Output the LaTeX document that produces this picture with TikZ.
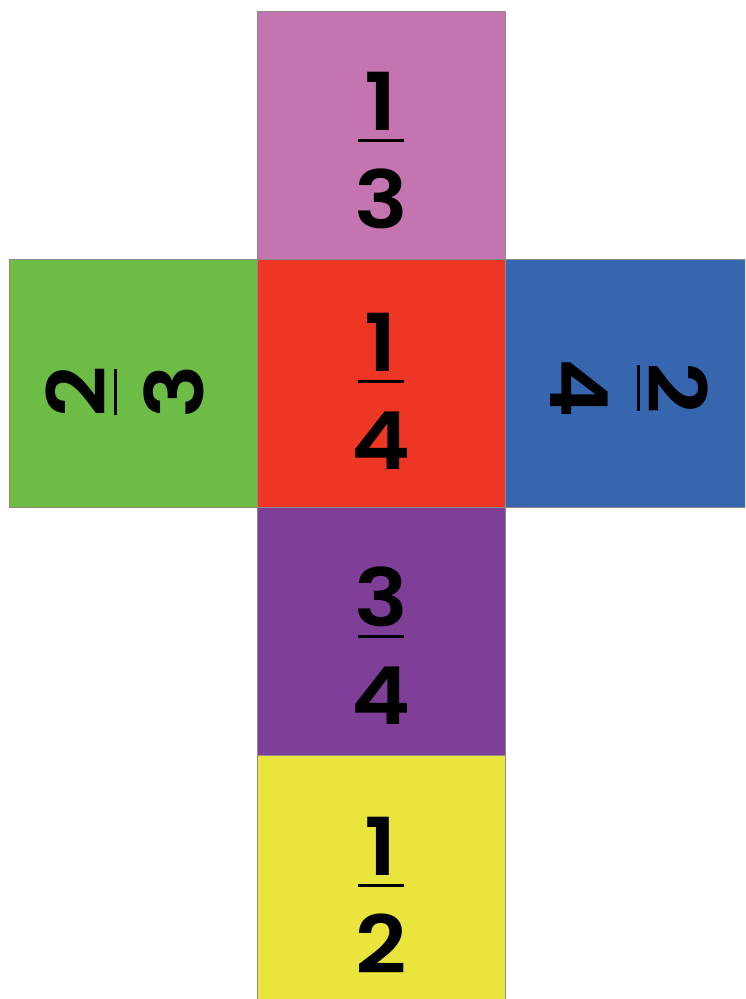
\documentclass[tikz,border=0pt]{standalone}
\usepackage{fontspec}
\newfontfamily\digitfont{Poppins SemiBold}
\definecolor{cpink}{HTML}{C474AE}
\definecolor{cred}{HTML}{EE3624}
\definecolor{cgreen}{HTML}{6CBC45}
\definecolor{cblue}{HTML}{3766B0}
\definecolor{cpurple}{HTML}{7F3F98}
\definecolor{cyellow}{HTML}{E9E53C}
\newcommand\myfrac[5]{%
  \begin{scope}[shift={#1},rotate=#2]
    \draw[fracbar] (-23,0) -- (23,0);
    \node[digit] (#5n) at (0,10) {#3};
    \node[digit] (#5d) at (0,-88) {#4};
  \end{scope}}
\begin{document}
\begin{tikzpicture}[x=1pt,y=1pt,
  face/.style={rectangle,draw=black!45,line width=0.8pt,minimum width=248pt,minimum height=248pt,inner sep=0pt,outer sep=0pt},
  digit/.style={anchor=base,inner sep=0pt,text depth=0pt,transform shape,xscale=1.12,font=\digitfont\fontsize{80}{80}\selectfont},
  fracbar/.style={line width=3pt,black}]
\useasboundingbox (0,0) rectangle (745,-999);
\fill[white] (0,0) rectangle (745,-999);
\clip (0,0) rectangle (745,-999);
\node[face,fill=cpink] (top) at (381,-135) {};
\node[face,fill=cred] (mid) at (381,-383) {};
\node[face,fill=cpurple] (low) at (381,-631) {};
\node[face,fill=cyellow] (bot) at (381,-879) {};
\node[face,fill=cgreen] (left) at (133,-383) {};
\node[face,fill=cblue] (right) at (629,-383) {};
\myfrac{(381,-140)}{0}{1}{3}{ftop}
\myfrac{(381,-381)}{0}{1}{4}{fmid}
\myfrac{(381,-636)}{0}{3}{4}{flow}
\myfrac{(381,-885)}{0}{1}{2}{fbot}
\myfrac{(115,-392)}{90}{2}{3}{fleft}
\myfrac{(638,-388)}{-90}{2}{4}{fright}
\end{tikzpicture}
\end{document}
